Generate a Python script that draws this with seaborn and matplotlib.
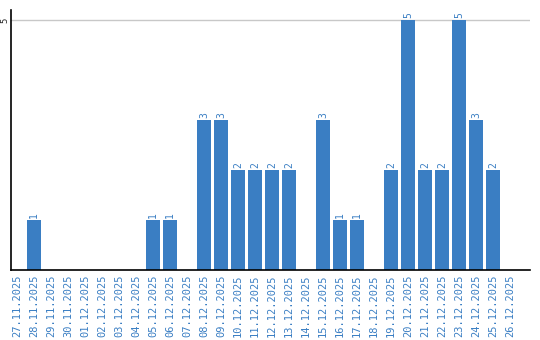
import matplotlib
matplotlib.use("Agg")
import matplotlib.pyplot as plt
import seaborn as sns
import pandas as pd

dates = ["27.11.2025", "28.11.2025", "29.11.2025", "30.11.2025", "01.12.2025",
         "02.12.2025", "03.12.2025", "04.12.2025", "05.12.2025", "06.12.2025",
         "07.12.2025", "08.12.2025", "09.12.2025", "10.12.2025", "11.12.2025",
         "12.12.2025", "13.12.2025", "14.12.2025", "15.12.2025", "16.12.2025",
         "17.12.2025", "18.12.2025", "19.12.2025", "20.12.2025", "21.12.2025",
         "22.12.2025", "23.12.2025", "24.12.2025", "25.12.2025", "26.12.2025"]
counts = [0, 1, 0, 0, 0, 0, 0, 0, 1, 1,
          0, 3, 3, 2, 2, 2, 2, 0, 3, 1,
          1, 0, 2, 5, 2, 2, 5, 3, 2, 0]
yticks = [5]

df = pd.DataFrame({"date": dates, "count": counts})
bar_color = "#3a7ec3"
label_color = "#3a7ec3"

sns.set_style("white")
fig = plt.figure(figsize=(5.4, 3.4), dpi=100)
ax = fig.add_axes([11/540, 70/340, 519/540, 260/340])
sns.barplot(data=df, x="date", y="count", color=bar_color, width=0.82,
            saturation=1, ax=ax, zorder=3, linewidth=0)

ax.set_ylim(0, 5.2)
ax.set_xlim(-0.35, 30.18)
ax.set_yticks(yticks)
ax.set_yticklabels([str(v) for v in yticks], rotation=90, va="center",
                   fontsize=6.5, family="DejaVu Sans Mono")
ax.yaxis.grid(True, color="#c8c8c8", linewidth=1, zorder=0)
ax.tick_params(axis="y", length=0, pad=1)
ax.tick_params(axis="x", length=0, pad=3)
ax.set_xticks(range(len(dates)))
ax.set_xticklabels(dates, rotation=90, fontsize=7.5, color=label_color,
                   family="DejaVu Sans Mono")
ax.set_xlabel("")
ax.set_ylabel("")
for s in ["top", "right"]:
    ax.spines[s].set_visible(False)
for s in ["left", "bottom"]:
    ax.spines[s].set_color("black")
    ax.spines[s].set_linewidth(1.2)
    ax.spines[s].set_zorder(4)

for i, v in enumerate(counts):
    if v > 0:
        ax.text(i, v + 0.05, str(v), rotation=90, ha="center", va="bottom",
                fontsize=7, color=label_color, family="DejaVu Sans Mono")

fig.savefig("out.png", dpi=100)
